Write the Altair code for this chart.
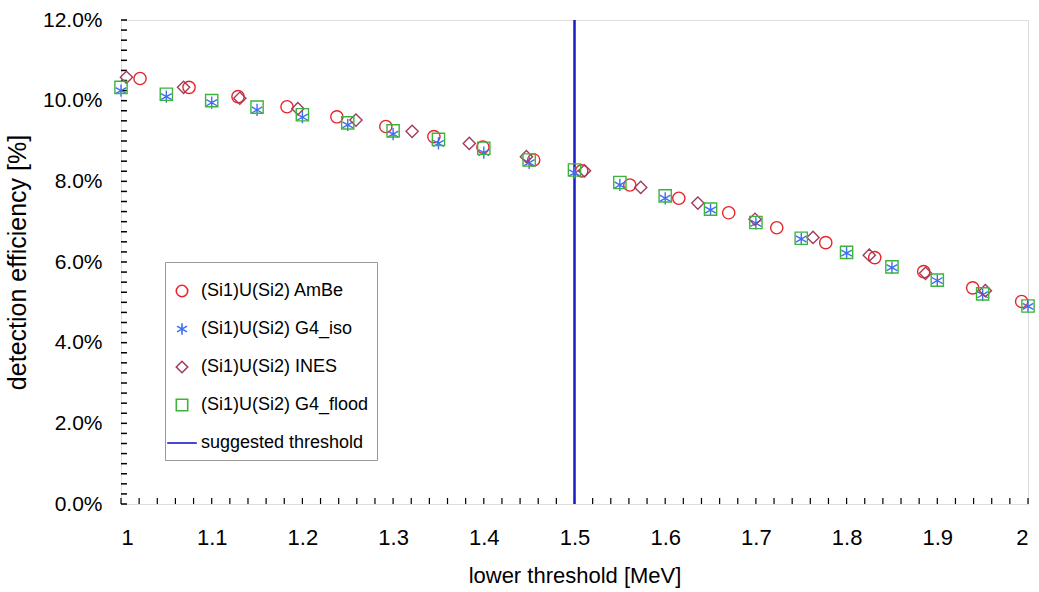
import altair as alt
import pandas as pd

# Detection efficiency [%] versus lower threshold [MeV]
flood_x = [1.00, 1.05, 1.10, 1.15, 1.20, 1.25, 1.30, 1.35, 1.40, 1.45, 1.50,
           1.55, 1.60, 1.65, 1.70, 1.75, 1.80, 1.85, 1.90, 1.95, 2.00]
flood_y = [10.33, 10.16, 10.00, 9.84, 9.65, 9.45, 9.25, 9.04, 8.82, 8.53, 8.28,
           7.97, 7.64, 7.31, 6.98, 6.59, 6.24, 5.88, 5.55, 5.21, 4.91]

iso_x = flood_x
iso_y = [10.25, 10.10, 9.95, 9.77, 9.59, 9.40, 9.17, 8.94, 8.71, 8.46, 8.21,
         7.91, 7.58, 7.29, 6.96, 6.57, 6.22, 5.86, 5.54, 5.19, 4.90]

ambe_x = [1.021, 1.075, 1.129, 1.183, 1.238, 1.292, 1.345, 1.399, 1.455, 1.508,
          1.561, 1.615, 1.670, 1.723, 1.777, 1.831, 1.885, 1.939, 1.993]
ambe_y = [10.55, 10.33, 10.10, 9.85, 9.60, 9.36, 9.11, 8.85, 8.53, 8.26,
          7.91, 7.58, 7.22, 6.85, 6.48, 6.11, 5.76, 5.36, 5.02]

ines_x = [1.006, 1.069, 1.131, 1.195, 1.259, 1.321, 1.384, 1.447, 1.511, 1.573,
          1.636, 1.699, 1.763, 1.825, 1.887, 1.953]
ines_y = [10.58, 10.33, 10.06, 9.80, 9.52, 9.24, 8.94, 8.61, 8.26, 7.85,
          7.46, 7.06, 6.61, 6.17, 5.72, 5.29]

threshold = [1.5]

series_names = ["(Si1)U(Si2) AmBe", "(Si1)U(Si2) G4_iso", "(Si1)U(Si2) INES",
                "(Si1)U(Si2) G4_flood", "suggested threshold"]
series_colors = ["#e8242b", "#3f6ef0", "#a23c5c", "#3cb43c", "#1a1ac4"]
star = "M0,-1L0,1M-0.87,-0.5L0.87,0.5M-0.87,0.5L0.87,-0.5"
line_sym = "M-2.6,0L2.6,0"
series_shapes = ["circle", star, "diamond", "square", line_sym]

# inward minor ticks on the frame
y_ticks = [i * 0.25 for i in range(49)]
x_ticks = [1 + i * 0.02 for i in range(51)]

W, H = 907, 484
FONT = "Liberation Sans"

rows = []
for name, xs, ys in [(series_names[0], ambe_x, ambe_y),
                     (series_names[1], iso_x, iso_y),
                     (series_names[2], ines_x, ines_y),
                     (series_names[3], flood_x, flood_y)]:
    for xv, yv in zip(xs, ys):
        rows.append({"threshold": xv, "eff": yv, "series": name})
points_df = pd.DataFrame(rows)
rule_df = pd.DataFrame({"threshold": threshold, "series": [series_names[4]]})
yt_df = pd.DataFrame({"v": y_ticks})
xt_df = pd.DataFrame({"v": x_ticks})

x_scale = alt.Scale(domain=[1, 2], nice=False, zero=False)
y_scale = alt.Scale(domain=[0, 12], nice=False)
color_scale = alt.Scale(domain=series_names, range=series_colors)
shape_scale = alt.Scale(domain=series_names, range=series_shapes)

x_axis = alt.Axis(title="lower threshold [MeV]", values=[1 + i / 10 for i in range(11)],
                  format=".1~f", ticks=False, tickSize=0, domain=False, grid=False,
                  labelFont=FONT, labelFontSize=22, labelPadding=23, labelColor="black",
                  titleFont=FONT, titleFontSize=22, titleFontWeight="normal",
                  titleColor="black", titlePadding=17)
y_axis = alt.Axis(title="detection efficiency [%]", values=[0, 2, 4, 6, 8, 10, 12],
                  labelExpr="format(datum.value, '.1f') + '%'", ticks=False, tickSize=0,
                  domain=False, grid=False, labelFont=FONT, labelFontSize=21,
                  labelPadding=19, labelColor="black", titleFont=FONT, titleFontSize=25,
                  titleFontWeight="normal", titleColor="black", titlePadding=12)

legend = alt.Legend(title=" ", titleFontSize=2, titlePadding=10,
                    orient="none", legendX=44, legendY=242,
                    labelFont=FONT, labelFontSize=18, labelColor="black",
                    symbolSize=130, symbolStrokeWidth=1.6, rowPadding=20,
                    padding=8, fillColor="white", strokeColor="#999999",
                    labelOffset=10, labelLimit=400)

points = alt.Chart(points_df).mark_point(filled=False, size=150, strokeWidth=1.4, opacity=1).encode(
    x=alt.X("threshold:Q", scale=x_scale, axis=x_axis),
    y=alt.Y("eff:Q", scale=y_scale, axis=y_axis),
    color=alt.Color("series:N", scale=color_scale, legend=legend),
    shape=alt.Shape("series:N", scale=shape_scale, legend=legend),
)

rule = alt.Chart(rule_df).mark_rule(strokeWidth=2.5).encode(
    x=alt.X("threshold:Q", scale=x_scale),
    color=alt.Color("series:N", scale=color_scale, legend=legend),
)

y_tick_marks = alt.Chart(yt_df).mark_rule(color="black", strokeWidth=1.5).encode(
    y=alt.Y("v:Q", scale=y_scale),
    x=alt.value(0), x2=alt.value(6),
)
x_tick_marks = alt.Chart(xt_df).mark_rule(color="black", strokeWidth=1.2).encode(
    x=alt.X("v:Q", scale=x_scale),
    y=alt.value(H), y2=alt.value(H - 6),
)

chart = alt.layer(y_tick_marks, x_tick_marks, rule, points).properties(
    width=W, height=H,
    autosize="none",
    padding={"left": 121, "top": 20, "right": 11, "bottom": 88},
).configure_view(
    stroke="black", strokeWidth=2.5, fill="white"
).configure(background="white")

chart.save("out.html", embed_options={"renderer": "svg", "actions": False})
